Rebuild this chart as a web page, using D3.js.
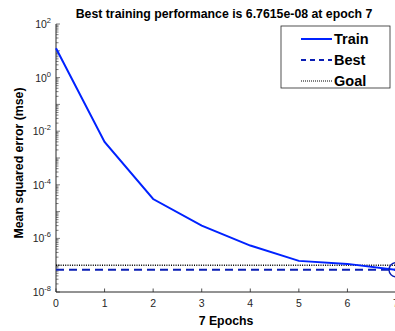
<!DOCTYPE html>
<html>
<head>
<meta charset="utf-8">
<script src="https://cdn.jsdelivr.net/npm/d3@7"></script>
<style>
  body { margin: 0; background: #fff; }
  text { font-family: "Liberation Sans", Arial, sans-serif; }
</style>
</head>
<body>
<svg width="395" height="331"></svg>
<script>
// data
var epochs = [0, 1, 2, 3, 4, 5, 6, 7];
var trainPerf = [12.4, 4.0e-3, 2.95e-5, 3.0e-6, 5.4e-7, 1.45e-7, 1.12e-7, 6.7615e-8];
var bestPerf = 6.7615e-8;
var bestEpoch = 7;
var goal = 1e-7;
var yLabelExps = [-8, -6, -4, -2, 0, 2];
var legendNames = ["Train", "Best", "Goal"];

var svg = d3.select("svg"),
    width = +svg.attr("width"),
    height = +svg.attr("height");

// "top" is a reserved window property, so use other names
var plotL = 56, plotT = 24, plotW = 340, plotH = 268;
var axisCol = "#262626";

var x = d3.scaleLinear().domain([0, 7]).range([plotL, plotL + plotW]);
var y = d3.scaleLog().domain([1e-8, 1e2]).range([plotT + plotH, plotT]);

var g = svg.append("g");

// y ticks: minor at 1..9 of each decade, major at the decades
var minor = [];
for (var e = -8; e < 2; e++) {
    for (var m = 1; m < 10; m++) minor.push(m * Math.pow(10, e));
}
minor.push(100);
g.selectAll(".ytick")
    .data(minor)
    .enter().append("line")
    .attr("x1", plotL).attr("x2", function(d) {
        var lg = Math.log10(d);
        return plotL + (Math.abs(lg - Math.round(lg)) < 1e-9 ? 4 : 2.5);
    })
    .attr("y1", function(d) { return y(d); })
    .attr("y2", function(d) { return y(d); })
    .attr("stroke", axisCol).attr("stroke-width", 0.6);

// y labels 10^n
var yl = g.selectAll(".ylab")
    .data(yLabelExps)
    .enter().append("text")
    .attr("x", 51)
    .attr("y", function(d) { return y(Math.pow(10, d)) + 4; })
    .attr("text-anchor", "end")
    .attr("fill", axisCol)
    .attr("font-size", 10.5);
yl.append("tspan").text("10");
yl.append("tspan").attr("dy", -5).attr("font-size", 7.5)
    .text(function(d) { return d < 0 ? "-" + (-d) : d; });

// x ticks
g.selectAll(".xtick")
    .data(epochs)
    .enter().append("line")
    .attr("x1", function(d) { return x(d); })
    .attr("x2", function(d) { return x(d); })
    .attr("y1", plotT + plotH).attr("y2", plotT + plotH - 3.5)
    .attr("stroke", axisCol).attr("stroke-width", 0.8);
g.selectAll(".xlab")
    .data(epochs)
    .enter().append("text")
    .attr("x", function(d) { return x(d); })
    .attr("y", plotT + plotH + 15)
    .attr("text-anchor", "middle")
    .attr("fill", axisCol)
    .attr("font-size", 10.5)
    .text(function(d) { return d; });

// axis lines (no box)
g.append("line").attr("x1", plotL).attr("x2", plotL)
    .attr("y1", plotT).attr("y2", plotT + plotH)
    .attr("stroke", axisCol).attr("stroke-width", 1);
g.append("line").attr("x1", plotL).attr("x2", plotL + plotW)
    .attr("y1", plotT + plotH).attr("y2", plotT + plotH)
    .attr("stroke", axisCol).attr("stroke-width", 1);

// goal and best lines
g.append("line")
    .attr("x1", x(0)).attr("x2", x(7))
    .attr("y1", y(goal)).attr("y2", y(goal))
    .attr("stroke", "#000").attr("stroke-width", 1.6)
    .attr("stroke-dasharray", "1,1.3");
g.append("line")
    .attr("x1", x(0)).attr("x2", x(7))
    .attr("y1", y(bestPerf)).attr("y2", y(bestPerf))
    .attr("stroke", "#0a1eb4").attr("stroke-width", 2)
    .attr("stroke-dasharray", "8,5");

// train line
var line = d3.line()
    .x(function(d, i) { return x(epochs[i]); })
    .y(function(d) { return y(d); });
g.append("path")
    .datum(trainPerf)
    .attr("d", line)
    .attr("fill", "none")
    .attr("stroke", "#0022ff")
    .attr("stroke-width", 2);

// best point circle
g.append("circle")
    .attr("cx", x(bestEpoch)).attr("cy", y(bestPerf))
    .attr("r", 7)
    .attr("fill", "none")
    .attr("stroke", "#0a1eb4").attr("stroke-width", 1.4);

// title and axis labels
svg.append("text")
    .attr("x", 224).attr("y", 18)
    .attr("text-anchor", "middle")
    .attr("font-size", 12.3).attr("font-weight", "bold")
    .text("Best training performance is 6.7615e-08 at epoch 7");
svg.append("text")
    .attr("x", 226).attr("y", 325)
    .attr("text-anchor", "middle")
    .attr("font-size", 12.3).attr("font-weight", "bold")
    .text("7 Epochs");
svg.append("text")
    .attr("transform", "translate(23,163) rotate(-90)")
    .attr("text-anchor", "middle")
    .attr("font-size", 12.3).attr("font-weight", "bold")
    .text("Mean squared error (mse)");

// legend
var lg = svg.append("g").attr("transform", "translate(281,26)");
lg.append("rect")
    .attr("width", 109).attr("height", 62)
    .attr("fill", "#fff").attr("stroke", axisCol).attr("stroke-width", 0.8);
var styles = [
    { col: "#0022ff", dash: null, w: 2 },
    { col: "#0a1eb4", dash: "5,4", w: 2 },
    { col: "#000", dash: "1,1", w: 1.2 }
];
legendNames.forEach(function(name, i) {
    var yy = 13 + i * 21;
    lg.append("line")
        .attr("x1", 20).attr("x2", 51)
        .attr("y1", yy).attr("y2", yy)
        .attr("stroke", styles[i].col)
        .attr("stroke-width", styles[i].w)
        .attr("stroke-dasharray", styles[i].dash);
    lg.append("text")
        .attr("x", 53).attr("y", yy + 5)
        .attr("font-size", 14.5).attr("font-weight", "bold")
        .text(name);
});
</script>
</body>
</html>
